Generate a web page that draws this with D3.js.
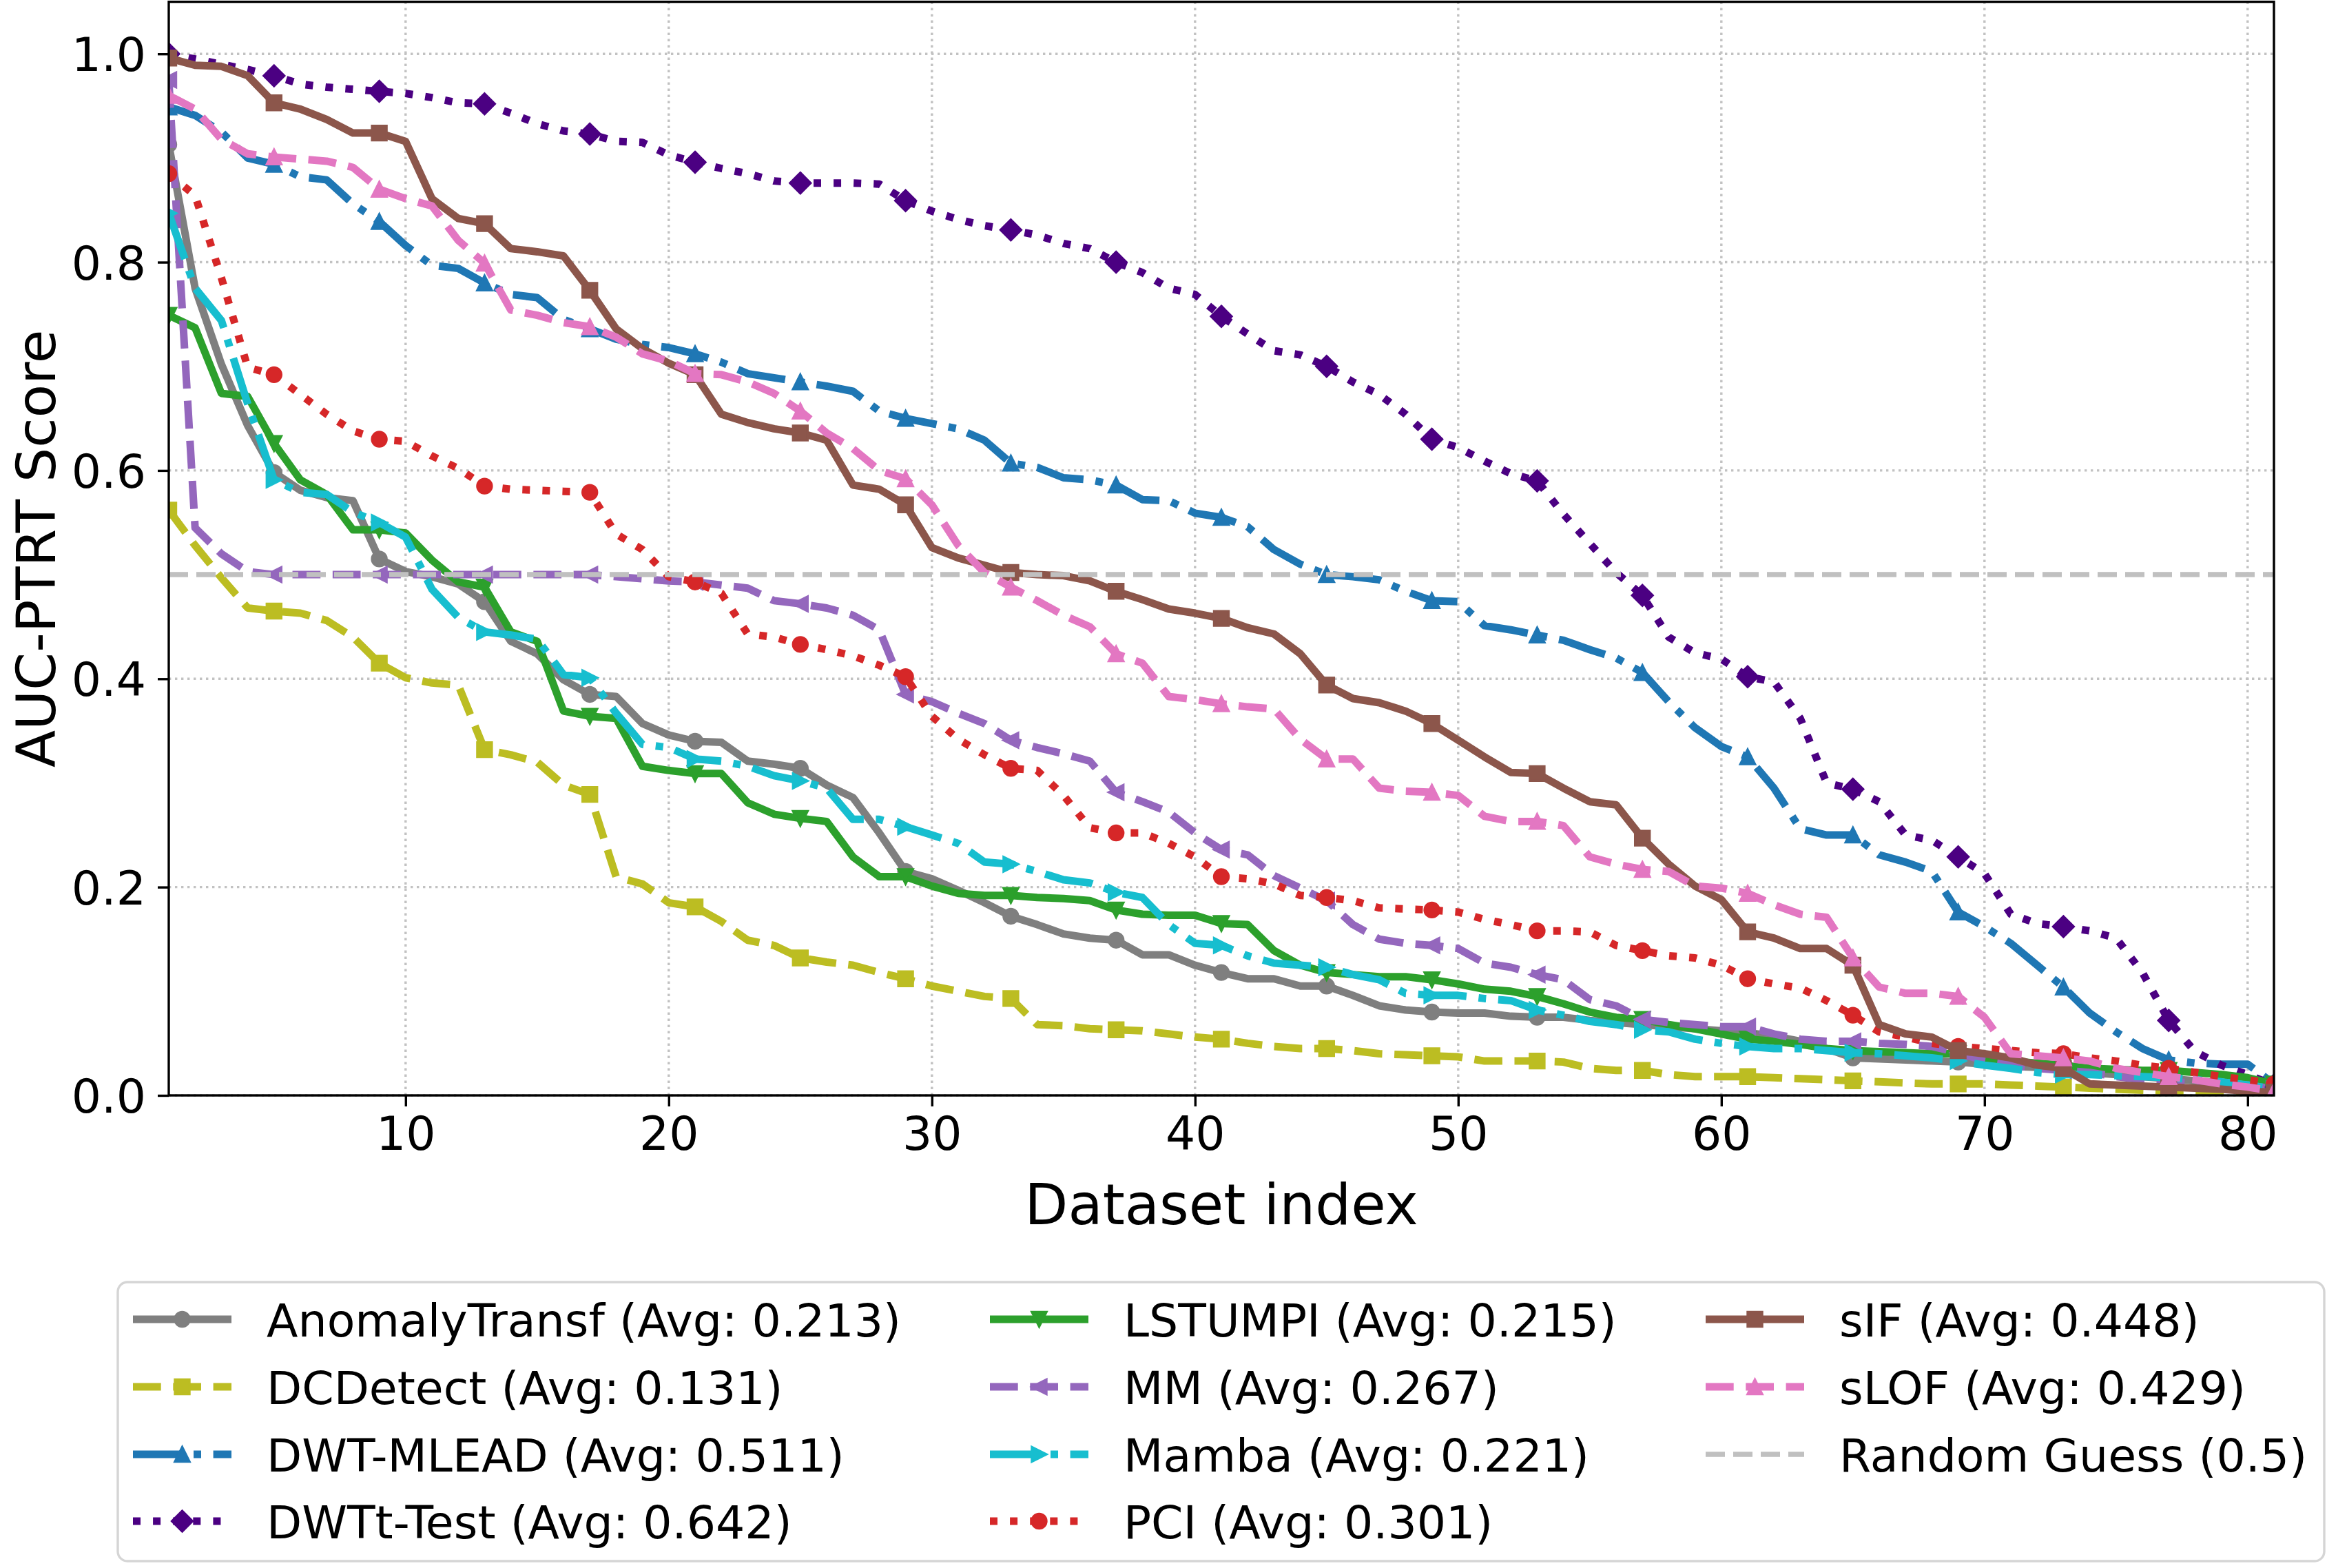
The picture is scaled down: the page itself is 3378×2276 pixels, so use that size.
<!DOCTYPE html>
<html><head><meta charset="utf-8">
<script src="https://cdn.jsdelivr.net/npm/d3@7"></script>
<style>
body{margin:0;background:#fff}
svg{display:block}
text{font-family:"DejaVu Sans",sans-serif;fill:#000}
</style>
</head><body>
<svg id="chart" width="3378" height="2276"></svg>
<script>
// ---------- DATA ----------
const datasetIndex = d3.range(1, 82);   // dataset index 1..81
const anomalyTransf = [0.913,0.775,0.702,0.643,0.598,0.581,0.574,0.571,0.515,0.503,0.498,0.491,0.474,0.436,0.424,0.399,0.385,0.383,0.357,0.346,0.340,0.339,0.321,0.318,0.314,0.298,0.286,0.252,0.215,0.208,0.197,0.185,0.172,0.164,0.155,0.151,0.149,0.135,0.135,0.125,0.118,0.112,0.112,0.105,0.105,0.096,0.086,0.082,0.080,0.079,0.079,0.076,0.075,0.075,0.072,0.070,0.068,0.066,0.064,0.062,0.060,0.057,0.052,0.045,0.036,0.035,0.034,0.033,0.032,0.030,0.028,0.027,0.025,0.022,0.020,0.018,0.016,0.014,0.012,0.010,0.008];
const dcDetect = [0.562,0.528,0.497,0.468,0.465,0.463,0.456,0.440,0.415,0.401,0.396,0.394,0.332,0.327,0.320,0.298,0.289,0.210,0.203,0.185,0.181,0.167,0.149,0.144,0.132,0.128,0.125,0.118,0.112,0.105,0.100,0.095,0.093,0.068,0.067,0.064,0.063,0.062,0.059,0.056,0.054,0.050,0.047,0.045,0.045,0.043,0.040,0.039,0.038,0.037,0.033,0.033,0.033,0.032,0.026,0.024,0.024,0.020,0.018,0.018,0.018,0.017,0.016,0.015,0.014,0.013,0.012,0.011,0.011,0.011,0.010,0.009,0.008,0.007,0.006,0.005,0.004,0.004,0.003,0.003,0.002];
const dwtMlead = [0.949,0.941,0.925,0.900,0.894,0.882,0.879,0.856,0.839,0.816,0.797,0.794,0.780,0.769,0.766,0.745,0.736,0.726,0.721,0.718,0.712,0.704,0.693,0.689,0.685,0.681,0.676,0.657,0.650,0.645,0.640,0.629,0.607,0.603,0.593,0.591,0.586,0.572,0.571,0.559,0.555,0.546,0.524,0.510,0.500,0.498,0.495,0.484,0.475,0.474,0.451,0.447,0.442,0.437,0.428,0.420,0.406,0.378,0.353,0.335,0.325,0.295,0.256,0.250,0.250,0.231,0.224,0.215,0.176,0.162,0.146,0.125,0.104,0.079,0.061,0.045,0.034,0.031,0.030,0.030,0.011];
const dwtTTest = [1.000,0.995,0.990,0.985,0.979,0.971,0.968,0.966,0.964,0.962,0.958,0.953,0.952,0.943,0.933,0.926,0.923,0.916,0.915,0.903,0.896,0.890,0.885,0.878,0.876,0.876,0.876,0.875,0.859,0.849,0.841,0.835,0.831,0.826,0.818,0.813,0.800,0.790,0.775,0.769,0.748,0.731,0.715,0.711,0.700,0.685,0.673,0.654,0.630,0.622,0.609,0.597,0.590,0.558,0.530,0.502,0.480,0.440,0.425,0.419,0.402,0.397,0.362,0.300,0.294,0.282,0.250,0.245,0.229,0.213,0.174,0.165,0.162,0.158,0.151,0.118,0.072,0.042,0.029,0.020,0.010];
const lstumpi = [0.749,0.737,0.674,0.671,0.626,0.591,0.577,0.543,0.543,0.540,0.514,0.493,0.488,0.445,0.436,0.369,0.364,0.362,0.316,0.312,0.309,0.309,0.281,0.270,0.266,0.263,0.229,0.210,0.210,0.201,0.194,0.192,0.192,0.190,0.189,0.187,0.178,0.174,0.173,0.173,0.165,0.164,0.139,0.125,0.118,0.116,0.114,0.114,0.111,0.107,0.102,0.100,0.095,0.088,0.080,0.075,0.073,0.068,0.064,0.059,0.054,0.052,0.049,0.045,0.043,0.042,0.041,0.040,0.040,0.036,0.033,0.031,0.029,0.026,0.025,0.024,0.024,0.022,0.020,0.017,0.011];
const mm = [0.975,0.545,0.520,0.503,0.500,0.500,0.500,0.500,0.500,0.500,0.500,0.500,0.500,0.500,0.500,0.500,0.500,0.498,0.496,0.494,0.493,0.490,0.487,0.475,0.472,0.468,0.461,0.447,0.385,0.378,0.367,0.357,0.341,0.334,0.328,0.321,0.291,0.282,0.272,0.252,0.236,0.231,0.211,0.199,0.187,0.164,0.150,0.146,0.144,0.141,0.127,0.123,0.116,0.111,0.092,0.086,0.073,0.070,0.068,0.066,0.066,0.059,0.054,0.052,0.052,0.050,0.049,0.047,0.041,0.033,0.029,0.026,0.024,0.022,0.018,0.015,0.013,0.012,0.011,0.010,0.006];
const mamba = [0.847,0.775,0.744,0.664,0.591,0.579,0.577,0.560,0.550,0.536,0.486,0.459,0.445,0.442,0.438,0.404,0.401,0.367,0.337,0.334,0.323,0.321,0.316,0.307,0.302,0.295,0.265,0.265,0.258,0.250,0.242,0.224,0.222,0.215,0.207,0.204,0.195,0.190,0.164,0.146,0.144,0.134,0.127,0.125,0.123,0.116,0.111,0.098,0.096,0.096,0.093,0.091,0.082,0.077,0.071,0.068,0.063,0.061,0.054,0.050,0.047,0.045,0.045,0.043,0.041,0.040,0.038,0.036,0.033,0.029,0.026,0.022,0.020,0.020,0.019,0.018,0.017,0.015,0.013,0.010,0.006];
const pci = [0.885,0.864,0.785,0.699,0.692,0.673,0.654,0.638,0.630,0.628,0.614,0.602,0.585,0.582,0.581,0.580,0.579,0.539,0.524,0.498,0.493,0.482,0.443,0.440,0.433,0.428,0.422,0.413,0.402,0.364,0.342,0.327,0.314,0.312,0.288,0.257,0.252,0.252,0.242,0.229,0.210,0.208,0.203,0.192,0.190,0.187,0.180,0.179,0.178,0.176,0.169,0.164,0.158,0.158,0.157,0.144,0.139,0.134,0.132,0.125,0.112,0.107,0.103,0.091,0.077,0.061,0.056,0.050,0.047,0.045,0.043,0.041,0.040,0.036,0.033,0.029,0.026,0.022,0.018,0.015,0.011];
const sIF = [0.996,0.989,0.988,0.979,0.953,0.947,0.937,0.924,0.924,0.916,0.861,0.842,0.837,0.813,0.810,0.806,0.773,0.736,0.717,0.703,0.692,0.654,0.646,0.640,0.636,0.629,0.586,0.582,0.567,0.526,0.516,0.509,0.502,0.500,0.499,0.494,0.484,0.476,0.467,0.463,0.458,0.449,0.443,0.424,0.394,0.381,0.377,0.369,0.357,0.341,0.325,0.310,0.309,0.295,0.282,0.279,0.247,0.222,0.201,0.188,0.157,0.151,0.141,0.141,0.125,0.068,0.059,0.056,0.043,0.040,0.036,0.029,0.026,0.011,0.010,0.009,0.008,0.007,0.006,0.004,0.003];
const sLOF = [0.960,0.947,0.918,0.904,0.901,0.899,0.897,0.891,0.870,0.861,0.854,0.821,0.799,0.754,0.749,0.742,0.738,0.728,0.712,0.705,0.693,0.692,0.685,0.674,0.657,0.636,0.621,0.600,0.592,0.567,0.528,0.502,0.488,0.475,0.461,0.450,0.424,0.415,0.383,0.380,0.376,0.373,0.371,0.342,0.323,0.323,0.295,0.292,0.291,0.288,0.268,0.263,0.263,0.259,0.229,0.222,0.217,0.215,0.201,0.199,0.194,0.183,0.174,0.171,0.132,0.104,0.098,0.098,0.095,0.075,0.040,0.038,0.036,0.033,0.026,0.022,0.018,0.015,0.011,0.008,0.004];

const methodNames = ["AnomalyTransf","DCDetect","DWT-MLEAD","DWTt-Test","LSTUMPI","MM","Mamba","PCI","sIF","sLOF"];
const methodAvgs = [0.213,0.131,0.511,0.642,0.215,0.267,0.221,0.301,0.448,0.429];
const seriesValues = [anomalyTransf,dcDetect,dwtMlead,dwtTTest,lstumpi,mm,mamba,pci,sIF,sLOF];
const randomGuess = 0.5;
const randomGuessLabel = "Random Guess (0.5)";
const xTicks = [10,20,30,40,50,60,70,80];
const yTicks = [0.0,0.2,0.4,0.6,0.8,1.0];
const xLabel = "Dataset index";
const yLabel = "AUC-PTRT Score";

// ---------- STYLES ----------
const LW = 11;
const DASH = "40.7,17.6", DASHDOT = "70.4,17.6,11,17.6", DOT = "11,18.1";
const styles = [
  {color:"#7f7f7f", dash:null,    marker:"o"},
  {color:"#bcbd22", dash:DASH,    marker:"s"},
  {color:"#1f77b4", dash:DASHDOT, marker:"^"},
  {color:"#4b0082", dash:DOT,     marker:"D"},
  {color:"#2ca02c", dash:null,    marker:"v"},
  {color:"#9467bd", dash:DASH,    marker:"<"},
  {color:"#17becf", dash:DASHDOT, marker:">"},
  {color:"#d62728", dash:DOT,     marker:"o"},
  {color:"#8c564b", dash:null,    marker:"s"},
  {color:"#e377c2", dash:DASH,    marker:"^"}
];
const RG = {color:"#c0c0c0", width:7.5, dash:"28,12"};
const MS = 21; // marker size

const box = {left:245, right:3301, top:2.6, bottom:1590};
const svg = d3.select("#chart");
const x = d3.scaleLinear().domain([1,81]).range([box.left, box.right]);
const y = d3.scaleLinear().domain([0,1.05]).range([box.bottom, box.top]);

function markerPath(m){
  const h = MS/2;
  switch(m){
    case "o": return d3.symbol(d3.symbolCircle, Math.PI*h*h)();
    case "s": return `M${-h},${-h}H${h}V${h}H${-h}Z`;
    case "^": return `M0,${-h}L${h},${h}L${-h},${h}Z`;
    case "v": return `M0,${h}L${h},${-h}L${-h},${-h}Z`;
    case "<": return `M${-h},0L${h},${-h}L${h},${h}Z`;
    case ">": return `M${h},0L${-h},${-h}L${-h},${h}Z`;
    case "D": { const d = h*Math.SQRT2; return `M0,${-d}L${d},0L0,${d}L${-d},0Z`; }
  }
}

svg.append("rect").attr("width",3378).attr("height",2276).attr("fill","#fff");

svg.append("defs").append("clipPath").attr("id","plotclip")
  .append("rect").attr("x",box.left).attr("y",box.top)
  .attr("width",box.right-box.left).attr("height",box.bottom-box.top);

// grid
const grid = svg.append("g");
grid.selectAll("line.gx").data(xTicks).join("line")
  .attr("x1",d=>x(d)).attr("x2",d=>x(d)).attr("y1",box.top).attr("y2",box.bottom)
  .attr("stroke","#c2c2c2").attr("stroke-width",3.4).attr("stroke-dasharray","3.4,5.6");
grid.selectAll("line.gy").data(yTicks).join("line")
  .attr("y1",d=>y(d)).attr("y2",d=>y(d)).attr("x1",box.left).attr("x2",box.right)
  .attr("stroke","#c2c2c2").attr("stroke-width",3.4).attr("stroke-dasharray","3.4,5.6");

// series
const plot = svg.append("g").attr("clip-path","url(#plotclip)");
const line = d3.line().x((d,i)=>x(datasetIndex[i])).y(d=>y(d));
seriesValues.forEach((vals,k)=>{
  const st = styles[k];
  const g = plot.append("g");
  g.append("path").attr("d",line(vals)).attr("fill","none")
    .attr("stroke",st.color).attr("stroke-width",LW)
    .attr("stroke-linejoin","round")
    .attr("stroke-linecap", st.dash ? "butt" : "square")
    .attr("stroke-dasharray", st.dash);
  const mk = vals.map((v,i)=>({v,i})).filter(d=>d.i%4===0);
  g.selectAll("path.mk").data(mk).join("path").attr("class","mk")
    .attr("d",markerPath(st.marker))
    .attr("transform",d=>`translate(${x(datasetIndex[d.i])},${y(d.v)})`)
    .attr("fill",st.color).attr("stroke",st.color).attr("stroke-width",3.4);
});
plot.append("line").attr("x1",box.left).attr("x2",box.right)
  .attr("y1",y(randomGuess)).attr("y2",y(randomGuess))
  .attr("stroke",RG.color).attr("stroke-width",RG.width).attr("stroke-dasharray",RG.dash);

// axes
const xAxis = svg.append("g").attr("transform",`translate(0,${box.bottom})`)
  .call(d3.axisBottom(x).tickValues(xTicks).tickFormat(d3.format("d")).tickSize(16).tickSizeOuter(0).tickPadding(15));
const yAxis = svg.append("g").attr("transform",`translate(${box.left},0)`)
  .call(d3.axisLeft(y).tickValues(yTicks).tickFormat(d3.format(".1f")).tickSize(16).tickSizeOuter(0).tickPadding(17));
[xAxis,yAxis].forEach(a=>{
  a.select(".domain").remove();
  a.selectAll(".tick line").attr("stroke","#000").attr("stroke-width",3.4);
  a.selectAll(".tick text").attr("font-size",68).attr("font-family","DejaVu Sans").attr("fill","#000");
});
yAxis.selectAll(".tick text").attr("dy","0.36em");

// frame
svg.append("rect").attr("x",box.left).attr("y",box.top)
  .attr("width",box.right-box.left).attr("height",box.bottom-box.top)
  .attr("fill","none").attr("stroke","#000").attr("stroke-width",3.4);

// axis labels
svg.append("text").attr("x",(box.left+box.right)/2).attr("y",1777)
  .attr("text-anchor","middle").attr("font-size",82).text(xLabel);
svg.append("text").attr("transform",`translate(80,${(box.top+box.bottom)/2}) rotate(-90)`)
  .attr("text-anchor","middle").attr("font-size",79).text(yLabel);

// legend
const leg = svg.append("g");
leg.append("rect").attr("x",171).attr("y",1861).attr("width",3203).attr("height",405)
  .attr("rx",14).attr("fill","#fff").attr("stroke","#d5d5d5").attr("stroke-width",3.4);
const entries = methodNames.map((n,k)=>({label:`${n} (Avg: ${methodAvgs[k].toFixed(3)})`, st:styles[k]}));
entries.push({label:randomGuessLabel, rg:true});
const rowY = [1915,2013,2111,2208];
const colHandle = [193,1437,2476];
const colText = [387,1631,2670];
const HL = 143;
entries.forEach((e,idx)=>{
  const col = Math.floor(idx/4), row = idx%4;
  const cy = rowY[row], hx = colHandle[col];
  const g = leg.append("g");
  if(e.rg){
    g.append("line").attr("x1",hx).attr("x2",hx+HL).attr("y1",cy).attr("y2",cy)
      .attr("stroke",RG.color).attr("stroke-width",RG.width).attr("stroke-dasharray",RG.dash);
  } else {
    g.append("line").attr("x1",hx).attr("x2",hx+HL).attr("y1",cy).attr("y2",cy)
      .attr("stroke",e.st.color).attr("stroke-width",LW)
      .attr("stroke-linecap","butt")
      .attr("stroke-dasharray",e.st.dash);
    g.append("path").attr("d",markerPath(e.st.marker))
      .attr("transform",`translate(${hx+HL/2},${cy})`)
      .attr("fill",e.st.color).attr("stroke",e.st.color).attr("stroke-width",3.4);
  }
  g.append("text").attr("x",colText[col]).attr("y",cy+25).attr("font-size",66.5).text(e.label);
});
</script>
</body></html>
